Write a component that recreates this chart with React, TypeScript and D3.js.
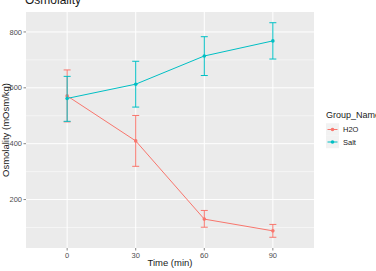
import { useEffect, useRef } from 'react'
import * as d3 from 'd3'

const times = ['0', '30', '60', '90']
const groups = ['H2O', 'Salt']
const colors = ['#F8766D', '#00BFC4']
const h2oMean = [571, 410, 130, 88]
const h2oLow = [478, 319, 101, 65]
const h2oHigh = [664, 501, 161, 111]
const saltMean = [562, 613, 714, 768]
const saltLow = [480, 531, 644, 703]
const saltHigh = [641, 695, 783, 833]
const yTicks = [200, 400, 600, 800]
const yMinor = [100, 300, 500, 700]

export default function App() {
  const svgRef = useRef<SVGSVGElement>(null)

  useEffect(() => {
    if (!svgRef.current) return
    const svg = d3.select(svgRef.current)
    svg.selectAll('*').remove()

    const W = 376
    const H = 271
    const panel = { left: 26, right: 314, top: 12, bottom: 248 }
    const font = 'Liberation Sans, Arial, sans-serif'

    svg.attr('width', W).attr('height', H).style('font-family', font)
    svg.append('rect').attr('width', W).attr('height', H).attr('fill', '#fff')

    const x = d3.scalePoint<string>()
      .domain(times)
      .range([panel.left, panel.right])
      .padding(0.6)

    const y = d3.scaleLinear()
      .domain([26.6, 871.4])
      .range([panel.bottom, panel.top])

    // panel
    svg.append('rect')
      .attr('x', panel.left)
      .attr('y', panel.top)
      .attr('width', panel.right - panel.left)
      .attr('height', panel.bottom - panel.top)
      .attr('fill', '#EBEBEB')

    // grid lines
    svg.selectAll('.minor')
      .data(yMinor)
      .enter().append('line')
      .attr('x1', panel.left).attr('x2', panel.right)
      .attr('y1', d => y(d)).attr('y2', d => y(d))
      .attr('stroke', '#fff').attr('stroke-width', 0.5)
    svg.selectAll('.major')
      .data(yTicks)
      .enter().append('line')
      .attr('x1', panel.left).attr('x2', panel.right)
      .attr('y1', d => y(d)).attr('y2', d => y(d))
      .attr('stroke', '#fff').attr('stroke-width', 1)
    svg.selectAll('.vgrid')
      .data(times)
      .enter().append('line')
      .attr('x1', d => x(d)!).attr('x2', d => x(d)!)
      .attr('y1', panel.top).attr('y2', panel.bottom)
      .attr('stroke', '#fff').attr('stroke-width', 1)

    // axes ticks + labels
    yTicks.forEach(t => {
      svg.append('line')
        .attr('x1', panel.left - 2.5).attr('x2', panel.left)
        .attr('y1', y(t)).attr('y2', y(t))
        .attr('stroke', '#333').attr('stroke-width', 0.6)
      svg.append('text')
        .attr('x', panel.left - 4)
        .attr('y', y(t))
        .attr('dy', '0.35em')
        .attr('text-anchor', 'end')
        .style('font-size', '7.5px')
        .style('fill', '#4D4D4D')
        .text(t)
    })
    times.forEach(t => {
      svg.append('line')
        .attr('x1', x(t)!).attr('x2', x(t)!)
        .attr('y1', panel.bottom).attr('y2', panel.bottom + 2.5)
        .attr('stroke', '#333').attr('stroke-width', 0.6)
      svg.append('text')
        .attr('x', x(t)!)
        .attr('y', panel.bottom + 9.5)
        .attr('text-anchor', 'middle')
        .style('font-size', '7.5px')
        .style('fill', '#4D4D4D')
        .text(t)
    })

    // axis titles
    svg.append('text')
      .attr('x', (panel.left + panel.right) / 2)
      .attr('y', 266)
      .attr('text-anchor', 'middle')
      .style('font-size', '9.5px')
      .style('fill', '#1a1a1a')
      .text('Time (min)')
    svg.append('text')
      .attr('transform', `translate(8.5,${(panel.top + panel.bottom) / 2}) rotate(-90)`)
      .attr('text-anchor', 'middle')
      .style('font-size', '9.5px')
      .style('fill', '#1a1a1a')
      .text('Osmolality (mOsm/kg)')

    // title (cut at the top edge as in the source image)
    svg.append('text')
      .attr('x', panel.left - 1)
      .attr('y', 4)
      .style('font-size', '12px')
      .style('fill', '#1a1a1a')
      .text('Osmolality')

    // series
    const series = [
      { name: groups[0], color: colors[0], mean: h2oMean, low: h2oLow, high: h2oHigh },
      { name: groups[1], color: colors[1], mean: saltMean, low: saltLow, high: saltHigh },
    ]
    const line = d3.line<number>()
      .x((_, i) => x(times[i])!)
      .y(d => y(d))

    series.forEach(s => {
      const g = svg.append('g')
      const cap = 3.5
      times.forEach((t, i) => {
        const cx = x(t)!
        g.append('line')
          .attr('x1', cx).attr('x2', cx)
          .attr('y1', y(s.low[i])).attr('y2', y(s.high[i]))
          .attr('stroke', s.color).attr('stroke-width', 1)
        ;[s.low[i], s.high[i]].forEach(v => {
          g.append('line')
            .attr('x1', cx - cap).attr('x2', cx + cap)
            .attr('y1', y(v)).attr('y2', y(v))
            .attr('stroke', s.color).attr('stroke-width', 1)
        })
      })
      g.append('path')
        .datum(s.mean)
        .attr('d', line)
        .attr('fill', 'none')
        .attr('stroke', s.color)
        .attr('stroke-width', 1)
      g.selectAll('circle')
        .data(s.mean)
        .enter().append('circle')
        .attr('cx', (_, i) => x(times[i])!)
        .attr('cy', d => y(d))
        .attr('r', 1.8)
        .attr('fill', s.color)
    })

    // legend
    const lx = 326
    svg.append('text')
      .attr('x', lx)
      .attr('y', 118)
      .style('font-size', '9px')
      .style('fill', '#1a1a1a')
      .text('Group_Name')
    series.forEach((s, i) => {
      const cy = 129.5 + i * 12.5
      svg.append('rect')
        .attr('x', lx).attr('y', cy - 6.25)
        .attr('width', 13).attr('height', 12.5)
        .attr('fill', '#F2F2F2')
      svg.append('line')
        .attr('x1', lx + 1.5).attr('x2', lx + 11.5)
        .attr('y1', cy).attr('y2', cy)
        .attr('stroke', s.color).attr('stroke-width', 1)
      svg.append('circle')
        .attr('cx', lx + 6.5).attr('cy', cy)
        .attr('r', 1.8).attr('fill', s.color)
      svg.append('text')
        .attr('x', lx + 17)
        .attr('y', cy)
        .attr('dy', '0.35em')
        .style('font-size', '7.5px')
        .style('fill', '#1a1a1a')
        .text(s.name)
    })
  }, [])

  return <svg ref={svgRef} style={{ position: 'absolute', left: 0, top: 0 }} />
}
